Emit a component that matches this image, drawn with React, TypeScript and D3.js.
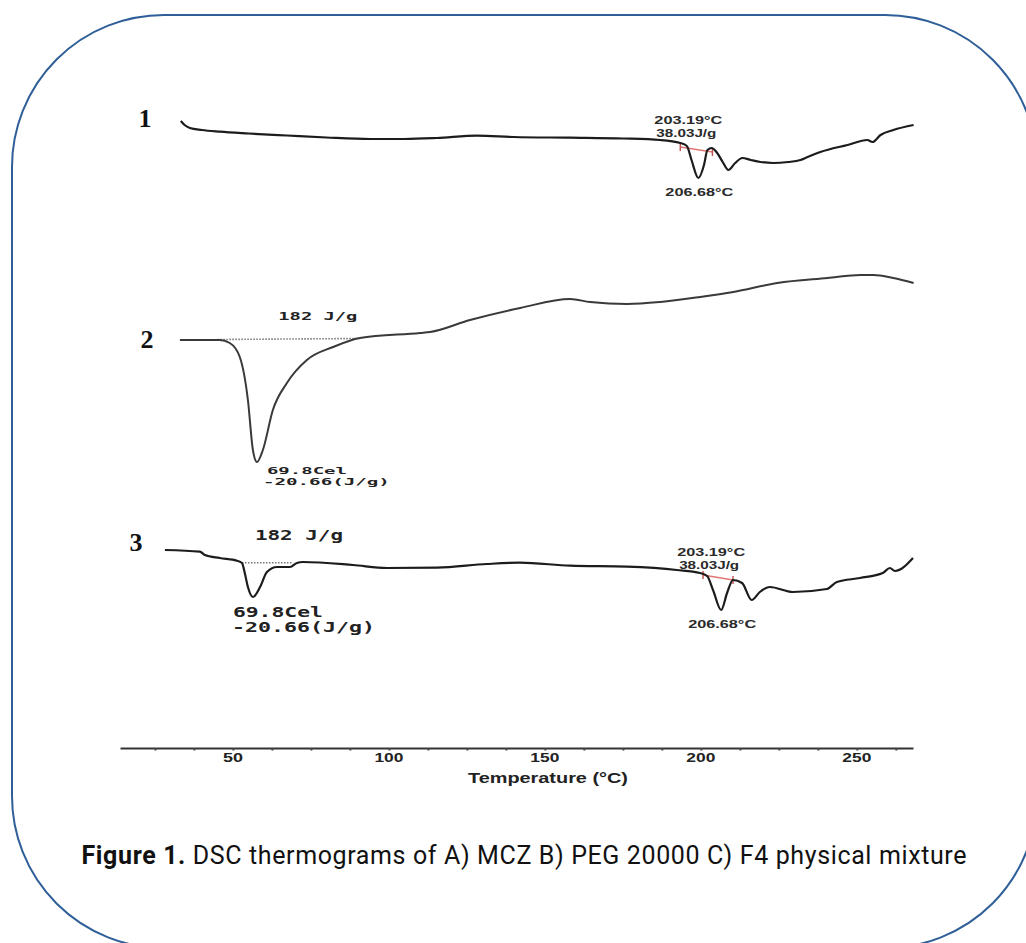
import { useEffect, useRef } from 'react';
import * as d3 from 'd3';

type Pt = [number, number];

// DSC traces: [temperature °C, heat flow (a.u., endo down)]
const mczCurve: Pt[] = [
  [33.3, 1.4], [34.5, 1.0], [36.2, 0.7], [40, 0.5], [45.8, 0.33], [55, 0.15], [67.3, -0.05],
  [80, -0.25], [94, -0.4], [105, -0.4], [115.4, -0.3], [128.3, -0.07], [140, -0.2], [158.1, -0.27],
  [175, -0.35], [187, -0.5], [193.4, -0.8], [195.5, -1.1], [197, -2.5], [199.2, -4.3], [201, -3.0],
  [202.1, -1.5], [203.5, -1.3], [205, -1.7], [207, -2.7], [208.8, -3.5], [211, -2.8], [213.3, -2.3],
  [216, -2.5], [219.1, -2.7], [223.2, -2.8], [228, -2.7], [231.9, -2.5], [234.2, -2.2], [238.3, -1.7],
  [247, -1.0], [253.4, -0.5], [255, -0.7], [257.6, 0.0], [261.7, 0.5], [268.2, 1.0],
];

const pegCurve: Pt[] = [
  [33, 0], [45.8, 0], [49, -0.3], [52.2, -1.7], [54.8, -6.0], [56.4, -11.0], [57.7, -12.2],
  [59.6, -11.0], [62.8, -7.0], [67.3, -4.3], [73.7, -2.0], [82.1, -0.7], [90.7, 0.2], [110, 0.7],
  [113.2, 0.8], [126, 2.0], [142.1, 3.2], [158.1, 4.1], [164.5, 3.8], [176.4, 3.6], [187, 3.8],
  [199.8, 4.3], [210.4, 4.8], [224.5, 5.7], [240.6, 6.2], [251.2, 6.5], [255.3, 6.5], [261.7, 6.2],
  [268.2, 5.7],
];

const mixCurve: Pt[] = [
  [28.2, 1.5], [39.4, 1.33], [41, 1.0], [45.8, 0.7], [51.3, 0.43], [52.9, 0.2], [53.8, -0.8],
  [54.8, -2.2], [56.4, -3.2], [58.7, -2.2], [60.9, -0.7], [64.1, -0.2], [68.3, -0.2], [70.5, 0.2],
  [72.4, 0.3], [88.5, 0], [99.4, -0.3], [115.4, -0.27], [131.4, 0.1], [142, 0.23], [158.1, -0.07],
  [176.3, -0.17], [192.3, -0.5], [199.7, -0.8], [202, -1.1], [203.9, -2.5], [206.5, -4.5],
  [208.4, -2.8], [210.3, -1.5], [213.2, -1.8], [216.3, -3.5], [218.9, -2.7], [222.1, -2.2],
  [229.5, -2.7], [240.4, -2.4], [243.6, -1.7], [251, -1.3], [258.3, -0.8], [260.6, -0.3],
  [262.2, -0.6], [268, 0.7],
];

// integration baselines
const mczBaseline: Pt[] = [[193.4, -1.2], [203.7, -1.7]];
const mixMczBaseline: Pt[] = [[200.7, -1.0], [210.3, -1.5]];
const pegBaseline: Pt[] = [[45, 0.05], [90.5, 0.15]];
const mixPegBaseline: Pt[] = [[52.9, 0.23], [69.3, 0.23]];

// peaks used to hang the labels
const mczPeak: Pt = [199.2, -4.3];
const mixMczPeak: Pt = [206.5, -4.5];
const pegPeak: Pt = [57.7, -12.2];
const mixPegPeak: Pt = [56.4, -3.2];

const mczLabels = ['203.19°C', '38.03J/g', '206.68°C'];
const pegLabels = ['182 J/g', '69.8Cel', '-20.66(J/g)'];
const curveNames = ['1', '2', '3'];

const tickLabels = [50, 100, 150, 200, 250];
const minorTicks = [25, 37.5, 50, 62.5, 75, 87.5, 100, 112.5, 125, 137.5, 150, 162.5, 175, 187.5, 200, 212.5, 225, 237.5, 250, 262.5];
const xTitle = 'Temperature (°C)';
const captionBold = 'Figure 1.';
const captionText = ' DSC thermograms of A) MCZ B) PEG 20000 C) F4 physical mixture';

function Thermograms() {
  const svgRef = useRef<SVGSVGElement>(null);

  useEffect(() => {
    const W = 1026;
    const H = 943;
    const svg = d3.select(svgRef.current);
    svg.selectAll('*').remove();
    svg.attr('width', W).attr('height', H);

    // rounded frame
    svg
      .append('rect')
      .attr('x', 12)
      .attr('y', 15)
      .attr('width', 1025)
      .attr('height', 933)
      .attr('rx', 152)
      .attr('fill', 'none')
      .attr('stroke', '#2f5f98')
      .attr('stroke-width', 2);

    const x = d3.scaleLinear().domain([13.8, 268]).range([120, 913]);
    // heat flow -> pixel offset within a lane
    const y = d3.scaleLinear().domain([0, 1]).range([0, -10]);

    const laneY = [135, 340, 565];
    const line = d3
      .line<Pt>()
      .x((d) => x(d[0]))
      .y((d) => y(d[1]))
      .curve(d3.curveMonotoneX);

    const curves = [mczCurve, pegCurve, mixCurve];
    const lanes = curves.map((c, i) =>
      svg.append('g').attr('transform', `translate(0,${laneY[i]})`)
    );

    // curve numbers
    const numberPos = [
      [145, 127],
      [147, 348],
      [136, 551],
    ];
    curveNames.forEach((n, i) => {
      svg
        .append('text')
        .attr('x', numberPos[i][0])
        .attr('y', numberPos[i][1])
        .attr('text-anchor', 'middle')
        .style('font-family', '"Liberation Serif", "DejaVu Serif", serif')
        .style('font-weight', 'bold')
        .style('font-size', '26px')
        .style('fill', '#111')
        .text(n);
    });

    // dotted integration lines (PEG melt)
    [
      { lane: 1, pts: pegBaseline },
      { lane: 2, pts: mixPegBaseline },
    ].forEach(({ lane, pts }) => {
      lanes[lane]
        .append('path')
        .attr('d', d3.line<Pt>().x((d) => x(d[0])).y((d) => y(d[1]))(pts))
        .attr('fill', 'none')
        .attr('stroke', '#777')
        .attr('stroke-width', 1.6)
        .attr('stroke-dasharray', '1.5,1.5');
    });

    // red integration lines (MCZ melt)
    [
      { lane: 0, pts: mczBaseline },
      { lane: 2, pts: mixMczBaseline },
    ].forEach(({ lane, pts }) => {
      const g = lanes[lane];
      g.append('path')
        .attr('d', d3.line<Pt>().x((d) => x(d[0])).y((d) => y(d[1]))(pts))
        .attr('fill', 'none')
        .attr('stroke', '#d9534f')
        .attr('stroke-width', 1.5)
        .attr('opacity', 0.8);
      pts.forEach((p) => {
        g.append('line')
          .attr('x1', x(p[0]))
          .attr('x2', x(p[0]))
          .attr('y1', y(p[1]) - 4)
          .attr('y2', y(p[1]) + 4)
          .attr('stroke', '#c0504d')
          .attr('stroke-width', 1.4);
      });
    });

    // traces
    curves.forEach((c, i) => {
      lanes[i]
        .append('path')
        .attr('d', line(c))
        .attr('fill', 'none')
        .attr('stroke', i === 1 ? '#3a3a3a' : '#1c1c1c')
        .attr('stroke-width', i === 1 ? 2 : 2.2)
        .attr('stroke-linejoin', 'round');
    });

    // MCZ labels
    const sansBold = (sel: d3.Selection<SVGTextElement, unknown, null, undefined>, size: number) =>
      sel
        .style('font-family', '"Liberation Sans", Arial, sans-serif')
        .style('font-weight', 'bold')
        .style('font-size', `${size}px`)
        .style('fill', '#2a2a2a');

    [
      { lane: 0, peak: mczPeak },
      { lane: 2, peak: mixMczPeak },
    ].forEach(({ lane, peak }) => {
      const g = lanes[lane];
      const px = x(peak[0]);
      const py = y(peak[1]);
      const offs = [
        { dx: -10, dy: -54, w: 68 },
        { dx: -12, dy: -41, w: 60 },
        { dx: 1, dy: 18, w: 68 },
      ];
      mczLabels.forEach((t, k) => {
        const el = g
          .append('text')
          .attr('x', px + offs[k].dx)
          .attr('y', py + offs[k].dy)
          .attr('text-anchor', 'middle')
          .attr('textLength', offs[k].w)
          .attr('lengthAdjust', 'spacingAndGlyphs')
          .text(t);
        sansBold(el, 11);
      });
    });

    // PEG labels (monospace instrument font)
    const mono = (sel: d3.Selection<SVGTextElement, unknown, null, undefined>, size: number) =>
      sel
        .style('font-family', '"DejaVu Sans Mono", "Liberation Mono", monospace')
        .style('font-weight', 'bold')
        .style('font-size', `${size}px`)
        .style('fill', '#222');

    const pegLabelSets = [
      {
        lane: 1,
        base: pegBaseline[0],
        peak: pegPeak,
        size: 9,
        area: { dx: 61, dy: -20, w: 79 },
        lines: [
          { dx: 10, dy: 12, w: 80 },
          { dx: 6, dy: 22.5, w: 127 },
        ],
      },
      {
        lane: 2,
        base: mixPegBaseline[0],
        peak: mixPegPeak,
        size: 14,
        area: { dx: 13, dy: -23, w: 88 },
        lines: [
          { dx: -20, dy: 20, w: 90 },
          { dx: -21, dy: 35, w: 143 },
        ],
      },
    ];
    pegLabelSets.forEach((s) => {
      const g = lanes[s.lane];
      const a = g
        .append('text')
        .attr('x', x(s.base[0]) + s.area.dx)
        .attr('y', y(s.base[1]) + s.area.dy)
        .attr('textLength', s.area.w)
        .attr('lengthAdjust', 'spacingAndGlyphs')
        .text(pegLabels[0]);
      mono(a, s.size === 9 ? 11 : s.size);
      s.lines.forEach((l, k) => {
        const el = g
          .append('text')
          .attr('x', x(s.peak[0]) + l.dx)
          .attr('y', y(s.peak[1]) + l.dy)
          .attr('textLength', l.w)
          .attr('lengthAdjust', 'spacingAndGlyphs')
          .text(pegLabels[k + 1]);
        mono(el, s.size);
      });
    });

    // temperature axis
    const axisY = 748;
    const axis = svg
      .append('g')
      .attr('transform', `translate(0,${axisY})`)
      .call(
        d3
          .axisBottom(x)
          .tickValues(minorTicks)
          .tickSize(2.5)
          .tickSizeOuter(0)
          .tickFormat(() => '')
      );
    axis.select('.domain').attr('stroke', '#333').attr('stroke-width', 2.2);
    axis.selectAll('.tick line').attr('stroke', '#444').attr('stroke-width', 2);

    tickLabels.forEach((t) => {
      const el = svg
        .append('text')
        .attr('x', x(t))
        .attr('y', axisY + 14)
        .attr('text-anchor', 'middle')
        .attr('textLength', t >= 100 ? 29 : 20)
        .attr('lengthAdjust', 'spacingAndGlyphs')
        .text(t);
      sansBold(el, 13).style('fill', '#222');
    });

    const title = svg
      .append('text')
      .attr('x', 548)
      .attr('y', axisY + 35)
      .attr('text-anchor', 'middle')
      .attr('textLength', 160)
      .attr('lengthAdjust', 'spacingAndGlyphs')
      .text(xTitle);
    sansBold(title, 14).style('fill', '#222');

    // caption
    const cap = svg
      .append('text')
      .attr('x', 524)
      .attr('y', 864)
      .attr('text-anchor', 'middle')
      .attr('textLength', 885)
      .attr('lengthAdjust', 'spacing')
      .style('font-family', 'Roboto, "Noto Sans", sans-serif')
      .style('font-size', '25px')
      .style('fill', '#111');
    cap.append('tspan').style('font-weight', 'bold').text(captionBold);
    cap.append('tspan').text(captionText);
  }, []);

  return <svg ref={svgRef} style={{ display: 'block' }}></svg>;
}

export default function App() {
  return (
    <div style={{ position: 'absolute', left: 0, top: 0, width: 1026, height: 943, background: '#fff' }}>
      <Thermograms />
    </div>
  );
}
